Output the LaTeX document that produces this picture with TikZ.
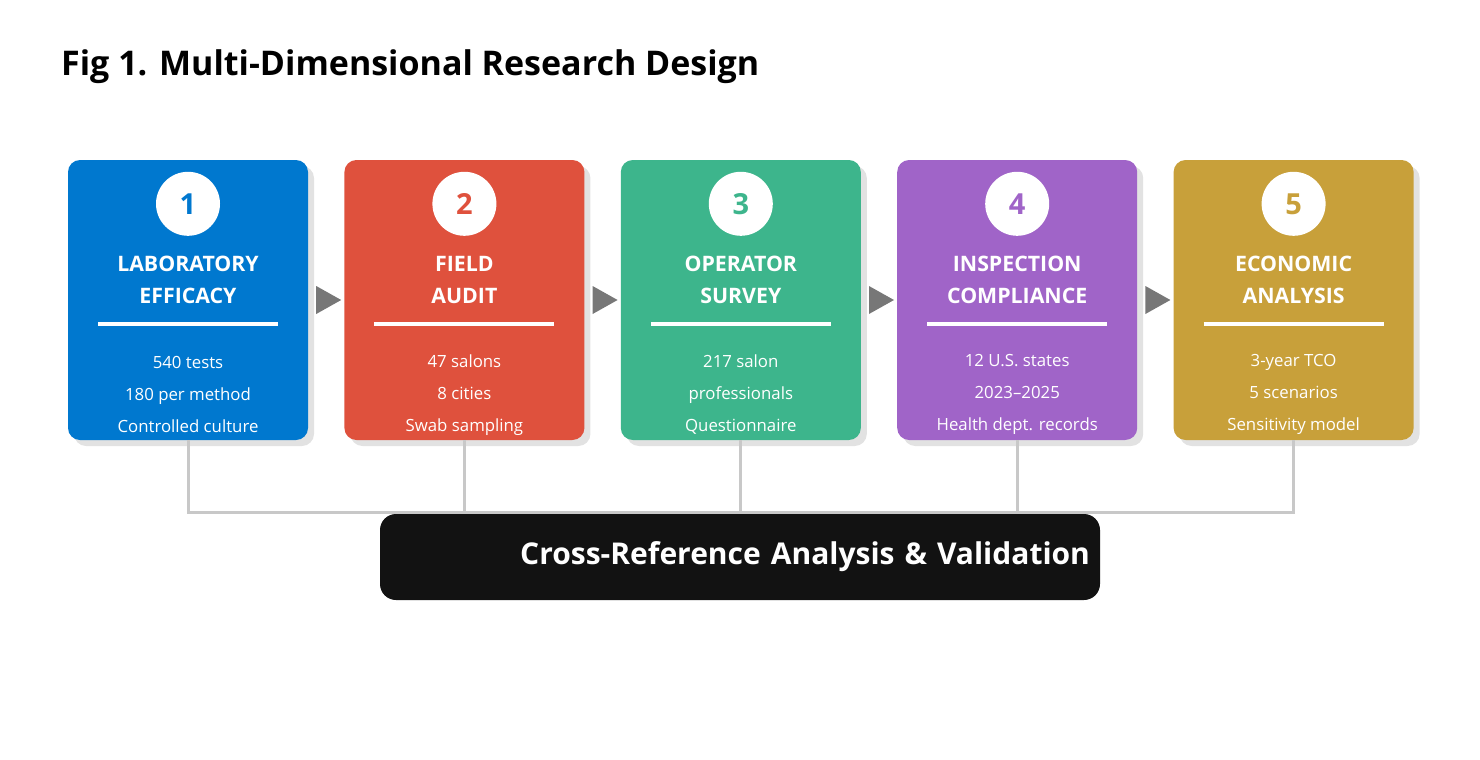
\documentclass[tikz,border=0pt]{standalone}
\usepackage{fontspec}
\setmainfont{Open Sans}
\usetikzlibrary{positioning, shadows}

\definecolor{labblue}{RGB}{0,120,207}
\definecolor{fieldred}{RGB}{223,81,61}
\definecolor{surveygreen}{RGB}{61,181,140}
\definecolor{inspectpurple}{RGB}{160,100,200}
\definecolor{econgold}{RGB}{200,160,58}
\definecolor{shadowgray}{RGB}{226,226,226}
\definecolor{arrowgray}{RGB}{119,119,119}
\definecolor{linkgray}{RGB}{200,200,200}
\definecolor{hubblack}{RGB}{18,18,18}

\begin{document}
\begin{tikzpicture}[
  x=1pt, y=-1pt,
  node distance = 36pt,
  stage/.style = {rounded corners=12pt, minimum width=240pt, minimum height=280pt,
                  inner sep=0pt, fill=#1,
                  drop shadow={shadow xshift=6pt, shadow yshift=-6pt, fill=shadowgray, opacity=1}},
  badge/.style = {circle, fill=white, minimum size=64pt, inner sep=0pt, text=#1,
                  font=\fontsize{29}{29}\selectfont\bfseries},
  heading/.style = {text=white, align=center, inner sep=0pt,
                    font=\fontsize{21.3}{32}\selectfont\bfseries},
  facts/.style = {text=white, align=center, inner sep=0pt,
                  font=\fontsize{16.8}{32}\selectfont},
  rule/.style = {white, line width=4pt},
  tip/.style = {fill=arrowgray},
  link/.style = {draw=linkgray, line width=3pt},
  hubbox/.style = {fill=hubblack, rounded corners=16pt, minimum width=720pt, minimum height=86pt,
                   text width=700pt, align=right, inner xsep=10pt, text=white,
                   font=\fontsize{30}{36}\selectfont\bfseries},
]
  \useasboundingbox (0,0) rectangle (1480,760);

  \node[anchor=base west, inner sep=0pt, font=\fontsize{34}{40}\selectfont\bfseries] (title) at (61,75)
    {Fig 1. Multi-Dimensional Research Design};

  % the five stages
  \node[stage=labblue] (b1) at (188,300) {};
  \node[stage=fieldred, right=of b1] (b2) {};
  \node[stage=surveygreen, right=of b2] (b3) {};
  \node[stage=inspectpurple, right=of b3] (b4) {};
  \node[stage=econgold, right=of b4] (b5) {};

  \foreach \i/\col/\head/\info in {
      1/labblue/{LABORATORY\\EFFICACY}/{540 tests\\180 per method\\Controlled culture},
      2/fieldred/{FIELD\\AUDIT}/{47 salons\\8 cities\\Swab sampling},
      3/surveygreen/{OPERATOR\\SURVEY}/{217 salon\\professionals\\Questionnaire},
      4/inspectpurple/{INSPECTION\\COMPLIANCE}/{12 U.S. states\\2023--2025\\Health dept. records},
      5/econgold/{ECONOMIC\\ANALYSIS}/{3-year TCO\\5 scenarios\\Sensitivity model}} {
    \node[badge=\col] (n\i) at ([yshift=-44pt]b\i.north) {\i};
    \node[heading] (h\i) at ([yshift=-120pt]b\i.north) {\head};
    \draw[rule] ([xshift=-90pt, yshift=-164pt]b\i.north) -- ([xshift=90pt, yshift=-164pt]b\i.north);
    \node[facts] (f\i) at ([yshift=-235pt]b\i.north) {\info};
  }

  % arrows between stages
  \foreach \i/\j in {1/2, 2/3, 3/4, 4/5} {
    \path (b\i.east) -- (b\j.west) coordinate[pos=0.5] (a\i);
    \fill[tip] ([xshift=-10pt, yshift=14pt]a\i) -- ([xshift=15pt]a\i)
      -- ([xshift=-10pt, yshift=-14pt]a\i) -- cycle;
  }

  % links to the analysis
  \coordinate (bus) at (740,512);
  \draw[link] (b1.south) |- (b5.south |- bus) -- (b5.south);
  \foreach \i in {2,3,4}
    \draw[link] (b\i.south) -- (b\i.south |- bus);

  \node[hubbox] (hub) at (740,557) {Cross-Reference Analysis \& Validation};
\end{tikzpicture}
\end{document}
